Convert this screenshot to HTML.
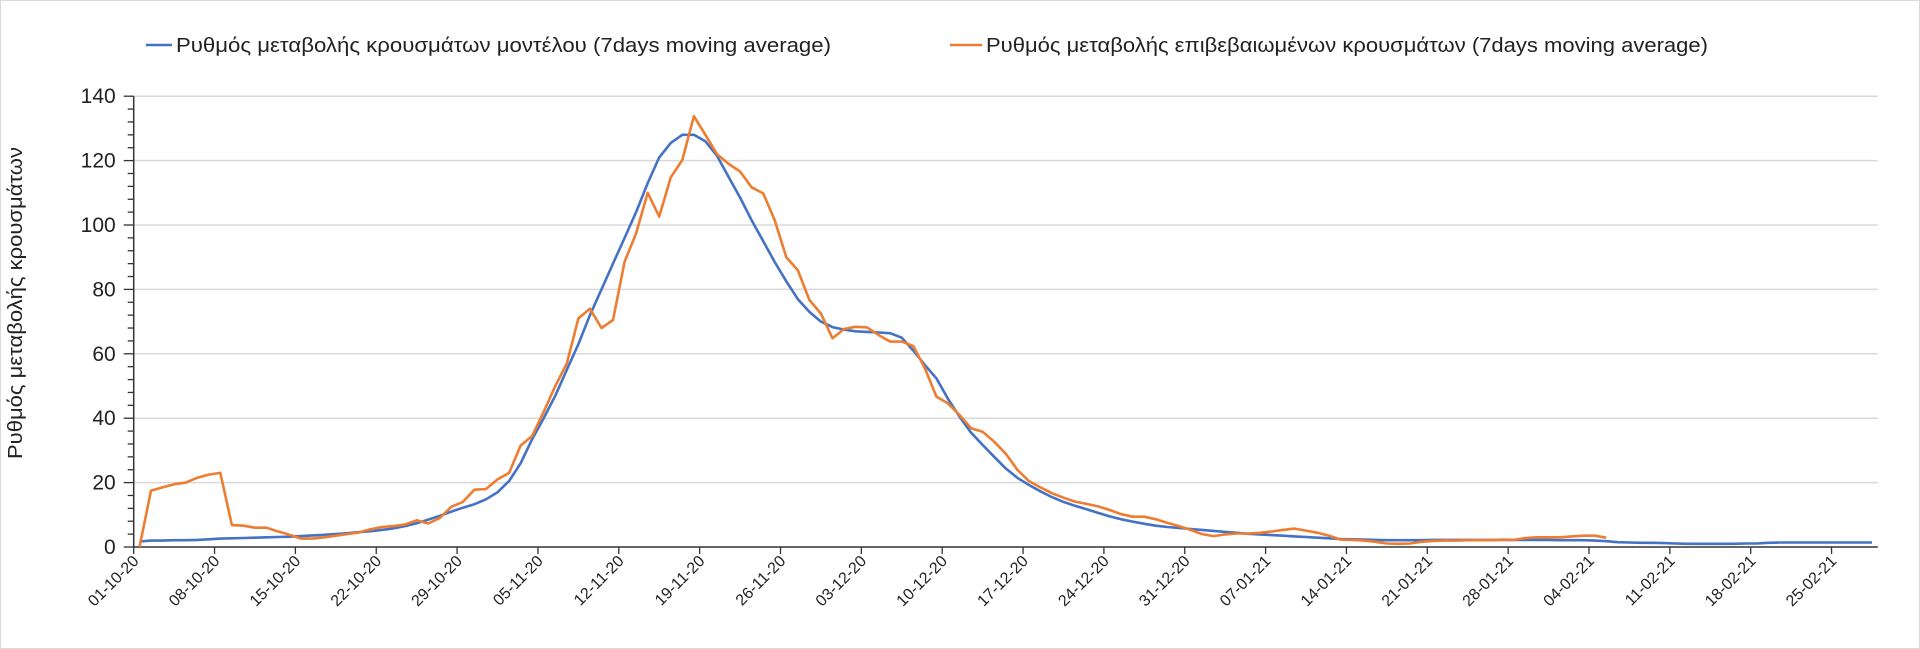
<!DOCTYPE html>
<html><head><meta charset="utf-8"><style>
html,body{margin:0;padding:0;background:#fff}
svg{display:block;font-family:"Liberation Sans","DejaVu Sans",sans-serif}
</style></head><body>
<svg id="chart" width="1920" height="649" viewBox="0 0 1920 649" xmlns="http://www.w3.org/2000/svg">
<rect x="0.5" y="0.5" width="1919" height="648" fill="#fff" stroke="#d9d9d9"/>
<g>
 <g>
  <line x1="146" y1="45" x2="172" y2="45" stroke="#4472C4" stroke-width="2.5"/>
  <text x="176" y="52" font-size="20" fill="#222" textLength="655" lengthAdjust="spacingAndGlyphs">Ρυθμός μεταβολής κρουσμάτων μοντέλου (7days moving average)</text>
 </g>
 <g>
  <line x1="950" y1="45" x2="982" y2="45" stroke="#ED7D31" stroke-width="2.5"/>
  <text x="986" y="52" font-size="20" fill="#222" textLength="722" lengthAdjust="spacingAndGlyphs">Ρυθμός μεταβολής επιβεβαιωμένων κρουσμάτων (7days moving average)</text>
 </g>
</g>
<text transform="translate(22,303) rotate(-90)" text-anchor="middle" font-size="20" fill="#222" textLength="312" lengthAdjust="spacingAndGlyphs">Ρυθμός μεταβολής κρουσμάτων</text>
<g id="grid"></g><g id="axes"></g><g id="series"></g>
</svg>
<script>
const yTicks = [0,20,40,60,80,100,120,140];
const xLabels = ["01-10-20","08-10-20","15-10-20","22-10-20","29-10-20","05-11-20","12-11-20","19-11-20","26-11-20","03-12-20","10-12-20","17-12-20","24-12-20","31-12-20","07-01-21","14-01-21","21-01-21","28-01-21","04-02-21","11-02-21","18-02-21","25-02-21"];
const modelValues = [1.7,2,2,2.1,2.1,2.2,2.4,2.6,2.7,2.8,2.9,3,3.1,3.2,3.4,3.6,3.8,4,4.3,4.6,4.9,5.3,5.8,6.5,7.4,8.5,9.7,11,12.2,13.3,14.8,17,20.5,26,33.5,40,47,55,63,72,80,88,96,104,113,121,125.5,128,128,126,121.5,115,108.5,101.5,95,88.5,82.5,77,73,70,68.3,67.5,67,66.8,66.6,66.4,65,61,56.5,52.4,46,40.5,35.5,31.7,28,24.4,21.5,19.3,17.3,15.5,14,12.8,11.7,10.6,9.5,8.6,7.9,7.2,6.6,6.2,5.9,5.6,5.3,5,4.7,4.4,4.1,3.9,3.7,3.5,3.3,3.1,2.9,2.7,2.5,2.4,2.3,2.2,2.1,2.1,2.1,2.1,2.2,2.2,2.2,2.2,2.2,2.2,2.2,2.2,2.2,2.2,2.2,2.1,2.1,2.1,2,1.8,1.5,1.4,1.3,1.3,1.2,1.1,1,1,1,1,1,1.1,1.1,1.3,1.4,1.4,1.4,1.4,1.4,1.4,1.4,1.4,1.4];
const confirmedValues = [0,17.5,18.5,19.5,20,21.5,22.5,23,6.8,6.6,6,6,4.8,3.8,2.6,2.6,3,3.5,4,4.5,5.5,6.2,6.5,7,8.3,7.3,9,12.5,14,17.8,18,21,23,31.5,34.5,42,50,57,71,74,68,70.5,88.6,97.4,110,102.6,114.8,120.2,133.8,128,122,119,116.6,111.7,109.8,101.5,90,86,76.7,72.5,64.8,67.7,68.4,68.2,65.8,63.8,63.8,62.4,55.5,46.7,44.6,41,36.9,35.8,32.7,29,24,20.5,18.5,16.7,15.3,14.1,13.4,12.6,11.5,10.2,9.4,9.4,8.6,7.5,6.5,5.3,4,3.4,3.9,4.2,4.2,4.4,4.8,5.3,5.7,5.1,4.4,3.5,2.3,2.2,2,1.6,1.1,1,1.1,1.6,1.9,2,2,2.1,2.1,2.1,2.3,2.2,2.8,3,3,3,3.3,3.5,3.5,2.9];

const NS="http://www.w3.org/2000/svg";
const X0=133.7, DX=11.55, NCAT=151, Y0=547, YS=3.22;
const xBound = i => X0 + i*DX;
const xPt = i => X0 + (i+0.5)*DX;
const yPos = v => Y0 - v*YS;
const XEND = xBound(NCAT);
function mk(tag, attrs, parent){const e=document.createElementNS(NS,tag);for(const k in attrs)e.setAttribute(k,attrs[k]);parent.appendChild(e);return e;}
const grid=document.getElementById('grid'), axes=document.getElementById('axes'), series=document.getElementById('series');

yTicks.forEach(v=>{
  if(v>0){const g=mk('line',{x1:X0,x2:XEND,y1:yPos(v),y2:yPos(v),stroke:'#d9d9d9','stroke-width':1.5},grid);
  
  }
  const t=mk('text',{x:X0-18,y:yPos(v)+7,'text-anchor':'end','font-size':21,fill:'#222'},axes);
  t.textContent=v;
  
  
});
// minor ticks every 4
for(let v=0; v<=yTicks[yTicks.length-1]; v+=4){
  const major = v%20===0;
  mk('line',{x1:X0-(major?10:6),x2:X0,y1:yPos(v),y2:yPos(v),stroke:'#333','stroke-width':1.3},axes);
}
const ya=mk('line',{x1:X0,x2:X0,y1:yPos(yTicks[yTicks.length-1]),y2:Y0,stroke:'#333','stroke-width':1.5},axes);


const xa=mk('line',{x1:X0,x2:XEND,y1:Y0,y2:Y0,stroke:'#333','stroke-width':1.5},axes);


xLabels.forEach((lab,k)=>{
  const x=xBound(k*7);
  mk('line',{x1:x,x2:x,y1:Y0,y2:Y0+7,stroke:'#333','stroke-width':1.3},axes);
  const t=mk('text',{transform:`translate(${x+6},${Y0+15}) rotate(-45)`,'text-anchor':'end','font-size':16,fill:'#222'},axes);
  t.textContent=lab;
  
  
});
function drawLine(vals,color,name){
  const d=vals.map((v,i)=>(i?'L':'M')+xPt(i).toFixed(1)+','+yPos(v).toFixed(1)).join('');
  const p=mk('path',{d:d,fill:'none',stroke:color,'stroke-width':2.6,'stroke-linejoin':'round'},series);
  
  
}
drawLine(modelValues,'#4472C4','model-series-line');
drawLine(confirmedValues,'#ED7D31','confirmed-series-line');
</script>
</body></html>
